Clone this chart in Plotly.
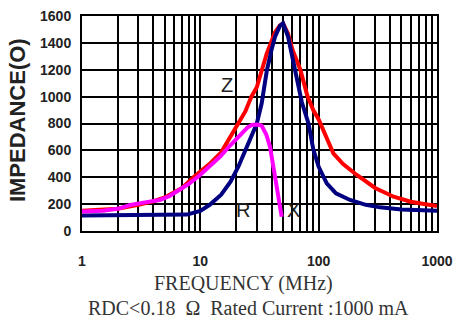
import math
import plotly.graph_objects as go

# Z (red)
z_freq = [1, 2, 3, 4, 5, 7, 9, 12, 15, 20, 24, 27, 30, 36.4, 42.8, 47, 50, 55, 60, 70, 80, 90, 100, 133, 160, 210, 300, 430, 600, 800, 1000]
z_imp = [150, 165, 195, 220, 250, 320, 410, 500, 585, 770, 890, 1000, 1070, 1320, 1480, 1530, 1545, 1470, 1350, 1200, 1010, 900, 830, 578, 500, 417, 320, 255, 218, 199, 186]

# X (navy)
x_freq = [1, 3, 5, 7.7, 10, 12, 15, 18, 21, 24.7, 30, 33, 36.4, 40, 42.8, 47, 50, 55, 63, 72, 82, 90, 100, 117, 140, 184, 250, 330, 500, 700, 1000]
x_imp = [115, 115, 117, 122, 150, 195, 270, 367, 480, 627, 800, 950, 1190, 1350, 1446, 1525, 1545, 1450, 1200, 960, 800, 610, 478, 355, 280, 231, 195, 176, 160, 152, 150]

# R (magenta)
r_freq = [1, 1.5, 2, 2.55, 3.5, 4.56, 5.5, 6.7, 8, 9.95, 12, 14.7, 18, 21.7, 25, 27.2, 30, 32.9, 36, 38.8, 41, 42.8, 45, 48.7]
r_imp = [145, 150, 165, 193, 215, 231, 260, 305, 350, 417, 480, 553, 640, 714, 770, 789, 792, 785, 720, 627, 500, 404, 270, 106]

labels = ["Z", "R", "X"]
label_freq = [16.7, 23.1, 61]
label_imp = [1086, 156, 156]

y_ticks = [0, 200, 400, 600, 800, 1000, 1200, 1400, 1600]
x_ticks = [1, 10, 100, 1000]
x_tick_text = ["1", "10", "100", "1000"]
minor_vals = [m * d for d in (1, 10, 100) for m in range(2, 10)]

fig = go.Figure()
fig.add_trace(go.Scatter(x=z_freq, y=z_imp, mode="lines", line=dict(color="#FF0000", width=4)))
fig.add_trace(go.Scatter(x=x_freq, y=x_imp, mode="lines", line=dict(color="#000080", width=4)))
fig.add_trace(go.Scatter(x=r_freq, y=r_imp, mode="lines", line=dict(color="#FF00FF", width=4)))

for t, fx, fy in zip(labels, label_freq, label_imp):
    # annotations on a log axis take log10 positions
    fig.add_annotation(x=math.log10(fx), y=fy, xref="x", yref="y", text=t, showarrow=False,
                       xanchor="center", yanchor="middle",
                       font=dict(family="Liberation Sans", size=20, color="#222222"))

fig.add_annotation(x=0.455, y=-0.242, xref="paper", yref="paper", text="FREQUENCY (MHz)",
                   xanchor="center", yanchor="middle",
                   showarrow=False, font=dict(family="Liberation Serif", size=20, color="#333333"))
fig.add_annotation(x=0.469, y=-0.358, xref="paper", yref="paper",
                   text="RDC&lt;0.18  &#937;  Rated Current :1000 mA",
                   xanchor="center", yanchor="middle",
                   showarrow=False, font=dict(family="Liberation Serif", size=20, color="#333333"))
fig.add_annotation(x=-0.183, y=0.516, xref="paper", yref="paper", text="IMPEDANCE(O)",
                   xanchor="center", yanchor="middle",
                   textangle=-90, showarrow=False,
                   font=dict(family="Liberation Sans", size=22, color="#222222", weight="bold"))

fig.update_layout(
    width=455, height=325,
    margin=dict(l=82, r=18, t=16, b=94),
    paper_bgcolor="white", plot_bgcolor="white",
    showlegend=False,
)
fig.update_xaxes(
    type="log", range=[0, 3], automargin=False,
    tickvals=x_ticks, ticktext=x_tick_text,
    tickfont=dict(family="Liberation Sans", size=14, color="#222222", weight="bold"),
    ticklabelstandoff=16,
    showgrid=True, gridcolor="black", gridwidth=1.6,
    minor=dict(tickvals=minor_vals, showgrid=True, gridcolor="black", gridwidth=1.6),
    showline=True, linecolor="black", linewidth=2, mirror=True,
    zeroline=False,
)
fig.update_yaxes(
    range=[0, 1600], automargin=False,
    tickvals=y_ticks,
    tickfont=dict(family="Liberation Sans", size=14, color="#222222", weight="bold"),
    ticklabelstandoff=6,
    showgrid=True, gridcolor="black", gridwidth=1.6,
    showline=True, linecolor="black", linewidth=2, mirror=True,
    zeroline=False,
)

fig.write_html("out.html", config={"displayModeBar": False},
               post_script="document.body.style.margin='0';")
